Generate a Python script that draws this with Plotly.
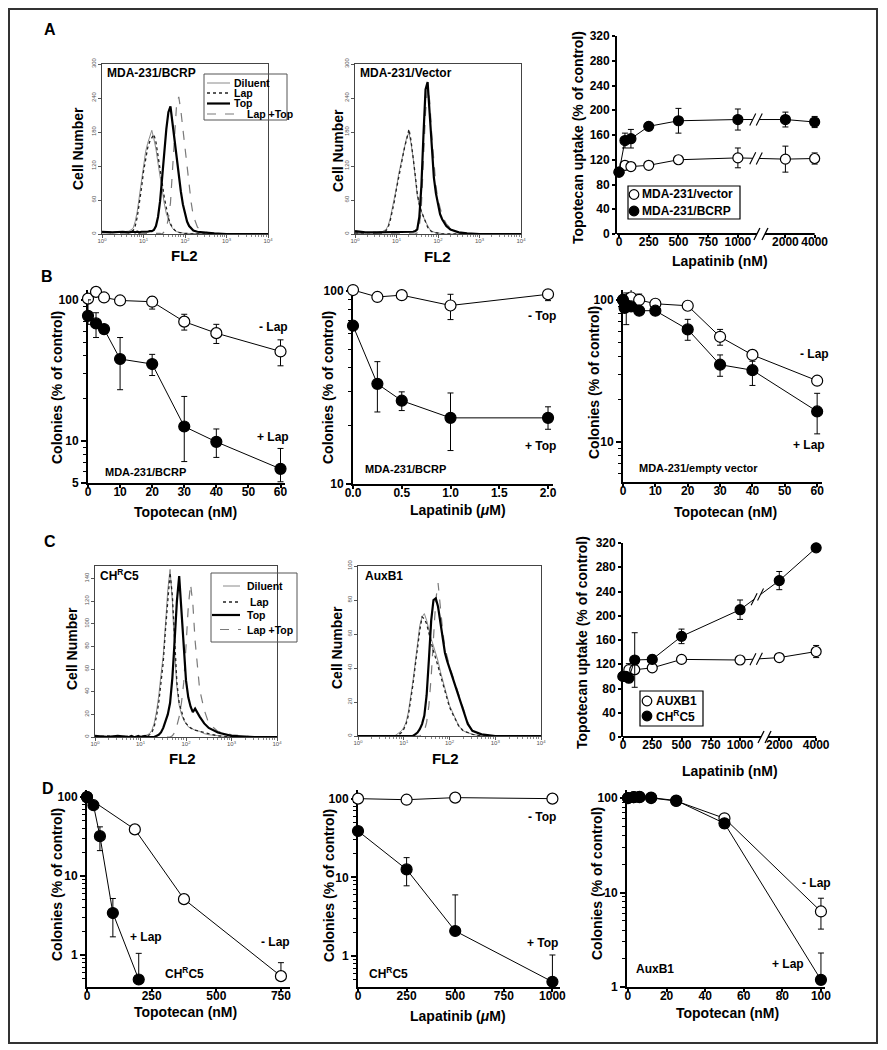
import plotly.graph_objects as go

W, H = 887, 1050
FONT = "Liberation Sans"
PAGE_OFFSET = 8  # browser body margin; layout coordinates below are screen pixels

# ================= DATA =================
# --- Flow cytometry histograms (FL2, decade exponents) ---
FL2_EXP = [0.0, 0.25, 0.5, 0.65, 0.75, 0.8, 0.85, 0.9, 0.95, 1.0, 1.05, 1.1, 1.15, 1.2, 1.25,
           1.3, 1.35, 1.4, 1.45, 1.5, 1.55, 1.6, 1.65, 1.7, 1.75, 1.8, 1.85, 1.9, 1.95, 2.0,
           2.05, 2.1, 2.15, 2.2, 2.3, 2.4, 2.5, 2.7, 3.0, 3.5, 4.0]
HIST_SERIES = ["Diluent", "Lap", "Top", "Lap +Top"]

A1_diluent = [4, 3, 4, 5, 10, 22, 40, 65, 95, 122, 145, 160, 172, 183, 168, 150, 125, 100, 76, 54, 36, 24, 16, 10, 6, 4, 3, 2, 2, 1, 1, 1, 0, 0, 0, 0, 0, 0, 0, 0, 0]
A1_lap = [3, 3, 3, 3, 6, 14, 30, 52, 80, 110, 135, 152, 163, 170, 176, 162, 140, 115, 90, 65, 44, 28, 18, 11, 7, 4, 3, 2, 1, 1, 1, 0, 0, 0, 0, 0, 0, 0, 0, 0, 0]
A1_top = [4, 3, 4, 3, 4, 3, 4, 3, 4, 4, 3, 4, 5, 5, 7, 14, 30, 58, 100, 145, 185, 215, 225, 195, 165, 128, 100, 75, 52, 35, 22, 14, 9, 6, 4, 3, 2, 1, 0, 0, 0]
A1_laptop = [2, 2, 2, 2, 2, 2, 2, 2, 2, 2, 2, 2, 2, 2, 1, 1, 1, 1, 0, 4, 10, 28, 55, 110, 180, 232, 242, 218, 185, 150, 118, 85, 55, 32, 12, 5, 3, 1, 0, 0, 0]

A2_diluent = [3, 2, 3, 4, 8, 15, 28, 45, 62, 82, 105, 122, 140, 158, 172, 178, 160, 135, 100, 68, 50, 38, 30, 22, 14, 8, 5, 3, 2, 2, 1, 0, 0, 0, 0, 0, 0, 0, 0, 0, 0]
A2_lap = [2, 2, 2, 3, 6, 12, 24, 40, 58, 80, 100, 120, 138, 155, 168, 185, 165, 138, 105, 72, 52, 40, 30, 20, 12, 7, 4, 3, 2, 1, 0, 0, 0, 0, 0, 0, 0, 0, 0, 0, 0]
A2_top = [5, 3, 3, 3, 4, 3, 4, 3, 4, 3, 4, 3, 4, 4, 3, 4, 4, 4, 5, 8, 30, 85, 175, 255, 268, 215, 150, 100, 72, 50, 35, 26, 19, 14, 8, 5, 3, 1, 0, 0, 0]
A2_laptop = [1, 1, 1, 1, 1, 1, 1, 1, 1, 1, 1, 1, 1, 1, 1, 1, 1, 1, 0, 2, 12, 50, 130, 215, 258, 235, 175, 120, 85, 60, 45, 33, 25, 18, 10, 6, 3, 1, 0, 0, 0]

C1_diluent = [1, 1, 0, 1, 0, 1, 0, 1, 0, 1, 1, 1, 2, 3, 6, 12, 22, 36, 55, 72, 100, 130, 148, 120, 75, 44, 28, 20, 15, 12, 9, 8, 7, 6, 5, 3, 2, 1, 0, 0, 0]
C1_lap = [0, 1, 0, 0, 1, 0, 1, 0, 0, 0, 1, 1, 1, 2, 4, 9, 18, 30, 48, 66, 95, 125, 145, 125, 82, 48, 30, 22, 16, 12, 10, 8, 7, 6, 5, 4, 3, 1, 0, 0, 0]
C1_top = [1, 0, 1, 0, 0, 1, 0, 0, 1, 0, 0, 1, 0, 0, 0, 0, 1, 2, 4, 8, 14, 20, 30, 52, 85, 120, 142, 112, 80, 50, 35, 27, 22, 25, 18, 12, 8, 4, 1, 0, 0]
C1_laptop = [0, 0, 0, 0, 0, 0, 0, 0, 0, 0, 0, 0, 0, 0, 0, 0, 0, 0, 0, 0, 0, 0, 0, 1, 4, 10, 18, 30, 48, 80, 115, 135, 118, 85, 42, 24, 12, 5, 2, 0, 0]

C2_diluent = [0, 0, 0, 0, 0, 0, 1, 2, 3, 5, 8, 14, 22, 32, 43, 55, 65, 70, 72, 68, 62, 57, 53, 49, 44, 38, 33, 27, 22, 18, 15, 12, 9, 6, 3, 2, 1, 0, 0, 0, 0]
C2_lap = [0, 0, 0, 0, 0, 0, 0, 1, 2, 4, 7, 12, 20, 30, 41, 52, 62, 70, 69, 66, 60, 55, 50, 46, 41, 36, 31, 26, 21, 17, 14, 11, 8, 6, 3, 2, 1, 0, 0, 0, 0]
C2_top = [0, 0, 0, 0, 0, 0, 0, 0, 0, 0, 0, 0, 0, 0, 1, 2, 4, 7, 12, 24, 45, 68, 80, 81, 76, 66, 56, 49, 44, 40, 36, 32, 28, 24, 15, 7, 3, 1, 0, 0, 0]
C2_laptop = [0, 0, 0, 0, 0, 0, 0, 0, 0, 0, 0, 0, 0, 0, 0, 0, 0, 1, 3, 8, 18, 35, 60, 80, 90, 75, 62, 52, 46, 41, 37, 33, 29, 25, 16, 8, 3, 1, 0, 0, 0]

FL2_TICKS = [1, 10, 100, 1000, 10000]
FL2_TICKTEXT = ["10<sup>0</sup>", "10<sup>1</sup>", "10<sup>2</sup>", "10<sup>3</sup>", "10<sup>4</sup>"]
A_HIST_YTICKS = [0, 60, 120, 180, 240, 300]
C1_YTICKS = [0, 20, 40, 60, 80, 100, 120, 140]
C2_YTICKS = [0, 20, 40, 60, 80, 100]

# --- Topotecan uptake vs lapatinib (A right) ---
A3_lap_nM = [0, 50, 100, 250, 500, 1000, 2000, 4000]
A3_vector = [100, 111, 109, 111, 120, 123, 121, 122]
A3_vector_err = [0, 3, 3, 3, 6, 16, 21, 9]
A3_bcrp = [100, 151, 154, 174, 183, 185, 185, 181]
A3_bcrp_err = [0, 12, 15, 5, 20, 17, 12, 9]

# --- Topotecan uptake vs lapatinib (C right) ---
C3_auxb1_nM = [0, 50, 100, 250, 500, 1000, 2000, 4000]
C3_auxb1 = [100, 111, 111, 114, 128, 127, 131, 141]
C3_auxb1_err = [0, 10, 0, 5, 6, 4, 5, 10]
C3_chrc5_nM = [0, 25, 50, 100, 250, 500, 1000, 2000, 4000]
C3_chrc5 = [100, 100, 97, 127, 128, 166, 210, 258, 312]
C3_chrc5_err = [0, 0, 0, 45, 7, 12, 16, 15, 0]
UPTAKE_YTICKS = [0, 40, 80, 120, 160, 200, 240, 280, 320]
LAP_NM_TICKS = [0, 250, 500, 750, 1000, 2000, 4000]

# --- B: colony survival ---
B1_topo = [0, 2.5, 5, 10, 20, 30, 40, 60]
B1_minus_lap = [102, 114, 104, 99, 97, 70, 58, 43]
B1_minus_lap_ep = [0, 0, 0, 0, 8, 9, 9, 9]
B1_minus_lap_em = [0, 0, 0, 0, 11, 9, 9, 9]
B1_plus_lap = [77, 68, 62, 38, 35, 12.6, 9.8, 6.3]
B1_plus_lap_ep = [23, 13, 0, 16, 6, 8, 2.3, 2.5]
B1_plus_lap_em = [10, 14, 0, 15, 6, 5.5, 2.2, 1.2]

B2_lap_uM = [0, 0.25, 0.5, 1.0, 2.0]
B2_minus_top = [101, 93, 95, 84, 96]
B2_minus_top_ep = [0, 0, 0, 12, 3]
B2_minus_top_em = [0, 0, 0, 13, 7]
B2_plus_top = [66, 33, 27, 22, 22]
B2_plus_top_ep = [0, 10, 3, 7.6, 3.1]
B2_plus_top_em = [0, 9.4, 3, 7.1, 2.8]

B3_minus_topo = [0, 2.5, 5, 10, 20, 30, 40, 60]
B3_minus_lap = [100, 104, 100, 94, 91, 55, 41, 27]
B3_minus_lap_ep = [0, 18, 10, 0, 0, 7, 0, 0]
B3_minus_lap_em = [0, 0, 0, 0, 0, 7, 0, 0]
B3_plus_topo = [0, 0.5, 1, 2.5, 5, 10, 20, 30, 40, 60]
B3_plus_lap = [100, 88, 92, 90, 84, 84, 62, 35, 32, 16.4]
B3_plus_lap_ep = [0, 0, 20, 0, 0, 0, 11, 6, 5, 5.6]
B3_plus_lap_em = [0, 0, 25, 0, 0, 0, 10, 6, 7, 5]

# --- D: colony survival ---
D1_minus_topo = [0, 185, 375, 750]
D1_minus_lap = [100, 39, 5.1, 0.54]
D1_minus_lap_ep = [0, 0, 0, 0.26]
D1_plus_topo = [0, 25, 50, 100, 200]
D1_plus_lap = [100, 79, 32, 3.4, 0.49]
D1_plus_lap_ep = [0, 0, 10, 1.8, 0.56]
D1_plus_lap_em = [0, 0, 11, 1.7, 0]

D2_lap = [0, 250, 500, 1000]
D2_minus_top = [100, 97, 103, 100]
D2_plus_top = [38.8, 12.6, 2.08, 0.47]
D2_plus_top_ep = [0, 5.2, 3.9, 0.56]
D2_plus_top_em = [0, 4.8, 0, 0]

D3_topo = [0, 3, 6, 12, 25, 50, 100]
D3_minus_lap = [100, 102, 102, 100, 93, 61, 6.3]
D3_minus_lap_ep = [0, 0, 0, 0, 0, 0, 2.4]
D3_minus_lap_em = [0, 0, 0, 0, 0, 0, 2.2]
D3_plus_lap = [100, 102, 103, 101, 94, 54, 1.19]
D3_plus_lap_ep = [0, 0, 0, 0, 0, 0, 1.1]
D3_plus_lap_em = [0, 0, 0, 0, 0, 6, 0]

# ================= helpers =================
def px(x):
    return (x - PAGE_OFFSET) / W


def py(y):
    return 1 - (y - PAGE_OFFSET) / H


fig = go.Figure()
layout = dict(width=W, height=H, autosize=False,
              margin=dict(l=0, r=0, t=0, b=0, pad=0, autoexpand=False),
              paper_bgcolor="white", plot_bgcolor="white", showlegend=False,
              font=dict(family=FONT, color="black"))
annotations = []
shapes = []


def make_axes(i, box, xcfg, ycfg):
    x0, x1, y0, y1 = box
    s = "" if i == 1 else str(i)
    layout["xaxis" + s] = dict(domain=[px(x0), px(x1)], anchor="y" + s, automargin=False, **xcfg)
    layout["yaxis" + s] = dict(domain=[py(y1), py(y0)], anchor="x" + s, automargin=False, **ycfg)
    return "x" + s, "y" + s


def text(x, y, s, size=12, anchor="center", angle=0, bold=True, color="black"):
    annotations.append(dict(x=px(x), y=py(y), xref="paper", yref="paper", text=s,
                            showarrow=False, xanchor=anchor, yanchor="middle",
                            textangle=angle,
                            font=dict(family=FONT, size=size, color=color,
                                      weight="bold" if bold else "normal")))


def pline(x0, y0, x1, y1, color="black", width=1, dash="solid"):
    shapes.append(dict(type="line", xref="paper", yref="paper", x0=px(x0), y0=py(y0),
                       x1=px(x1), y1=py(y1), line=dict(color=color, width=width, dash=dash)))


def prect(x0, y0, x1, y1, width=1, color="black"):
    shapes.append(dict(type="rect", xref="paper", yref="paper", x0=px(x0), y0=py(y1),
                       x1=px(x1), y1=py(y0), line=dict(color=color, width=width)))


def pcircle(cx, cy, r, filled):
    shapes.append(dict(type="circle", xref="paper", yref="paper", x0=px(cx - r), x1=px(cx + r),
                       y0=py(cy + r), y1=py(cy - r), line=dict(color="black", width=1.2),
                       fillcolor="black" if filled else "white"))


TICKFONT = dict(family=FONT, size=12, color="black", weight="bold")
HIST_STYLE = {
    "Diluent": dict(color="#8a8a8a", width=1, dash="solid"),
    "Lap": dict(color="#222222", width=1.3, dash="dot"),
    "Top": dict(color="black", width=2.2, dash="solid"),
    "Lap +Top": dict(color="#7a7a7a", width=1.2, dash="dash"),
}
FL2_MINOR = [m * 10 ** d for d in range(4) for m in range(2, 10)]


def hist_panel(i, box, ymax, yticks, curves):
    xcfg = dict(type="log", range=[0, 4], tickmode="array", tickvals=FL2_TICKS,
                ticktext=FL2_TICKTEXT, tickfont=dict(family=FONT, size=6, color="#555"),
                ticks="outside", ticklen=3, tickwidth=0.8, tickcolor="#555", tickangle=0,
                ticklabelstandoff=-2,
                minor=dict(tickmode="array", tickvals=FL2_MINOR, ticks="outside", ticklen=1.5,
                           tickcolor="#888", tickwidth=0.6, showgrid=False),
                showline=True, mirror=True, linecolor="#444", linewidth=1,
                showgrid=False, zeroline=False)
    ycfg = dict(range=[0, ymax], tickmode="array", tickvals=yticks,
                tickfont=dict(family=FONT, size=6, color="#555"), tickangle=-90,
                ticks="outside", ticklen=3, tickwidth=0.8, tickcolor="#555",
                showline=True, mirror=True, linecolor="#444", linewidth=1,
                showgrid=False, zeroline=False)
    xr, yr = make_axes(i, box, xcfg, ycfg)
    fl2 = [10 ** e for e in FL2_EXP]
    for name in ["Lap +Top", "Diluent", "Lap", "Top"]:
        fig.add_trace(go.Scatter(x=fl2, y=curves[name], xaxis=xr, yaxis=yr, mode="lines",
                                 line=HIST_STYLE[name], hoverinfo="skip"))
    return xr, yr


def lin_axis(rng, tickvals, ticktext=None, showline=True, lw=2, is_x=True):
    d = dict(range=rng, tickmode="array", tickvals=tickvals, showline=showline, linewidth=lw,
             linecolor="black", ticks="outside", ticklen=3, tickwidth=1.5, tickcolor="black",
             showgrid=False, zeroline=False, tickfont=TICKFONT, layer="below traces",
             tickangle=0)
    if is_x:
        d["ticklabelstandoff"] = -6
    if ticktext is not None:
        d["ticktext"] = ticktext
    return d


def log_axis(rng, tickvals, minor_vals):
    return dict(type="log", range=rng, tickmode="array", tickvals=tickvals,
                ticktext=[str(v) for v in tickvals], showline=True, linewidth=2,
                linecolor="black", ticks="outside", ticklen=5, tickwidth=1.5, tickcolor="black",
                minor=dict(tickmode="array", tickvals=minor_vals, ticks="outside", ticklen=3,
                           tickwidth=1, tickcolor="black", showgrid=False),
                showgrid=False, zeroline=False, tickfont=TICKFONT, layer="below traces")


def series(xr, yr, x, y, filled, ep=None, em=None, size=11):
    err = None
    if ep is not None:
        err = dict(type="data", symmetric=False, array=ep,
                   arrayminus=em if em is not None else ep,
                   color="black", thickness=1, width=3)
    fig.add_trace(go.Scatter(x=x, y=y, xaxis=xr, yaxis=yr, mode="lines+markers",
                             line=dict(color="black", width=1),
                             marker=dict(size=size, color="black" if filled else "white",
                                         line=dict(color="black", width=1.2)),
                             error_y=err, cliponaxis=False, hoverinfo="skip"))


def axis_break(xr, a, b, bottom_px):
    for xv in (a, b):
        shapes.append(dict(type="line", xref=xr, yref="paper", xsizemode="pixel",
                           ysizemode="pixel", xanchor=xv, yanchor=py(bottom_px),
                           x0=-3, x1=3, y0=-6, y1=6, line=dict(color="black", width=1.3)))


def line_break(xr, yr, xs, ys, a, b):
    def yat(xv):
        for k in range(len(xs) - 1):
            if xs[k] <= xv <= xs[k + 1]:
                t = (xv - xs[k]) / (xs[k + 1] - xs[k])
                return ys[k] + t * (ys[k + 1] - ys[k])
        return ys[-1]
    shapes.append(dict(type="line", xref=xr, yref=yr, x0=a, x1=b, y0=yat(a), y1=yat(b),
                       line=dict(color="white", width=5), layer="above"))
    for xv in (a, b):
        shapes.append(dict(type="line", xref=xr, yref=yr, xsizemode="pixel",
                           ysizemode="pixel", xanchor=xv, yanchor=yat(xv),
                           x0=-3, x1=3, y0=-6, y1=6, line=dict(color="black", width=1.1),
                           layer="above"))


# ================= PANEL A =================
hist_panel(1, (102, 268, 64, 234), 300, A_HIST_YTICKS,
           dict(zip(HIST_SERIES, [A1_diluent, A1_lap, A1_top, A1_laptop])))
hist_panel(2, (355, 521, 64, 234), 300, A_HIST_YTICKS,
           dict(zip(HIST_SERIES, [A2_diluent, A2_lap, A2_top, A2_laptop])))

A3_POS = {2000: 1400, 4000: 1646}
a3x = lambda v: A3_POS.get(v, v)
xr, yr = make_axes(3, (617, 825, 36, 234),
                   lin_axis([-17, 1733], [a3x(v) for v in LAP_NM_TICKS],
                            [str(v) for v in LAP_NM_TICKS], showline=False),
                   lin_axis([0, 320], UPTAKE_YTICKS, lw=1.8, is_x=False))
vx = [a3x(v) for v in A3_lap_nM]
series(xr, yr, vx, A3_vector, False, A3_vector_err, size=10)
series(xr, yr, vx, A3_bcrp, True, A3_bcrp_err, size=10)
shapes.append(dict(type="line", xref=xr, yref="paper", x0=-17, x1=1160, y0=py(234), y1=py(234),
                   line=dict(color="black", width=1.8)))
shapes.append(dict(type="line", xref=xr, yref="paper", x0=1228, x1=1646, y0=py(234), y1=py(234),
                   line=dict(color="black", width=1.8)))
axis_break(xr, 1160, 1228, 234)
line_break(xr, yr, vx, A3_vector, 1125, 1180)
line_break(xr, yr, vx, A3_bcrp, 1125, 1180)

# ================= PANEL B =================
B_MINOR_5 = [6, 7, 8, 9, 20, 30, 40, 50, 60, 70, 80, 90]
B_MINOR_10 = [20, 30, 40, 50, 60, 70, 80, 90]
xr, yr = make_axes(4, (88, 285, 290, 483),
                   lin_axis([0, 61.4], [0, 10, 20, 30, 40, 50, 60]),
                   log_axis([0.699, 2.07], [5, 10, 100], B_MINOR_5))
series(xr, yr, B1_topo, B1_minus_lap, False, B1_minus_lap_ep, B1_minus_lap_em)
series(xr, yr, B1_topo, B1_plus_lap, True, B1_plus_lap_ep, B1_plus_lap_em)

xr, yr = make_axes(5, (353, 553, 287, 484),
                   lin_axis([0, 2.051], [0, 0.5, 1.0, 1.5, 2.0], ["0.0", "0.5", "1.0", "1.5", "2.0"]),
                   log_axis([1, 2.02], [10, 100], B_MINOR_10))
series(xr, yr, B2_lap_uM, B2_minus_top, False, B2_minus_top_ep, B2_minus_top_em)
series(xr, yr, B2_lap_uM, B2_plus_top, True, B2_plus_top_ep, B2_plus_top_em)

xr, yr = make_axes(6, (623, 822, 290, 482),
                   lin_axis([0, 61.5], [0, 10, 20, 30, 40, 50, 60]),
                   log_axis([0.718, 2.07], [10, 100], B_MINOR_5))
series(xr, yr, B3_minus_topo, B3_minus_lap, False, B3_minus_lap_ep, B3_minus_lap_em)
series(xr, yr, B3_plus_topo, B3_plus_lap, True, B3_plus_lap_ep, B3_plus_lap_em)

# ================= PANEL C =================
hist_panel(7, (95, 277, 566, 737), 151, C1_YTICKS,
           dict(zip(HIST_SERIES, [C1_diluent, C1_lap, C1_top, C1_laptop])))
hist_panel(8, (358, 541, 566, 736), 100, C2_YTICKS,
           dict(zip(HIST_SERIES, [C2_diluent, C2_lap, C2_top, C2_laptop])))

C3_POS = {2000: 1335, 4000: 1650}
c3x = lambda v: C3_POS.get(v, v)
xr, yr = make_axes(9, (623, 822, 543, 737),
                   lin_axis([0, 1700], [c3x(v) for v in LAP_NM_TICKS],
                            [str(v) for v in LAP_NM_TICKS], showline=False),
                   lin_axis([0, 320], UPTAKE_YTICKS, lw=1.8, is_x=False))
ax_ = [c3x(v) for v in C3_auxb1_nM]
cx_ = [c3x(v) for v in C3_chrc5_nM]
series(xr, yr, ax_, C3_auxb1, False, C3_auxb1_err, size=10)
series(xr, yr, cx_, C3_chrc5, True, C3_chrc5_err, size=10)
shapes.append(dict(type="line", xref=xr, yref="paper", x0=0, x1=1179, y0=py(737), y1=py(737),
                   line=dict(color="black", width=1.8)))
shapes.append(dict(type="line", xref=xr, yref="paper", x0=1239, x1=1650, y0=py(737), y1=py(737),
                   line=dict(color="black", width=1.8)))
axis_break(xr, 1179, 1239, 737)
line_break(xr, yr, ax_, C3_auxb1, 1110, 1165)
line_break(xr, yr, cx_, C3_chrc5, 1120, 1175)

# ================= PANEL D =================
D_MINOR = [0.5, 0.6, 0.7, 0.8, 0.9, 2, 3, 4, 5, 6, 7, 8, 9, 20, 30, 40, 50, 60, 70, 80, 90]
xr, yr = make_axes(10, (87, 290, 790, 987),
                   lin_axis([0, 785], [0, 250, 500, 750]),
                   log_axis([-0.405, 2.09], [1, 10, 100], D_MINOR))
series(xr, yr, D1_minus_topo, D1_minus_lap, False, D1_minus_lap_ep, [0, 0, 0, 0])
series(xr, yr, D1_plus_topo, D1_plus_lap, True, D1_plus_lap_ep, D1_plus_lap_em)

xr, yr = make_axes(11, (358, 560, 790, 987),
                   lin_axis([0, 1039], [0, 250, 500, 750, 1000]),
                   log_axis([-0.394, 2.11], [1, 10, 100], D_MINOR))
series(xr, yr, D2_lap, D2_minus_top, False)
series(xr, yr, D2_lap, D2_plus_top, True, D2_plus_top_ep, D2_plus_top_em)

xr, yr = make_axes(12, (627, 825, 790, 987),
                   lin_axis([-0.5, 102.1], [0, 20, 40, 60, 80, 100]),
                   log_axis([0, 2.085], [1, 10, 100], D_MINOR[5:]))
series(xr, yr, D3_topo, D3_minus_lap, False, D3_minus_lap_ep, D3_minus_lap_em)
series(xr, yr, D3_topo, D3_plus_lap, True, D3_plus_lap_ep, D3_plus_lap_em)

# ================= TEXT, LEGENDS, FRAME =================
for letter, (lx, ly) in zip("ABCD", [(50, 30), (47, 276), (50, 541), (48, 788)]):
    text(lx, ly, letter, size=16)

YT = "Colonies (% of control)"
UT = "Topotecan uptake (% of control)"
# A
text(105, 73, "MDA-231/BCRP", size=12, anchor="left")
text(358, 73, "MDA-231/Vector", size=12, anchor="left")
text(78, 149, "Cell Number", size=14, angle=-90)
text(338, 151, "Cell Number", size=14, angle=-90)
text(184, 255, "FL2", size=15)
text(437, 257, "FL2", size=15)
text(578, 138, UT, size=14, angle=-90)
text(720, 261, "Lapatinib (nM)", size=14)
# B
text(57, 388, YT, size=14, angle=-90)
text(185, 512, "Topotecan (nM)", size=14)
text(273, 327, "- Lap", size=12)
text(273, 437, "+ Lap", size=12)
text(145, 472, "MDA-231/BCRP", size=11)
text(328, 388, YT, size=14, angle=-90)
text(458, 510, "Lapatinib (<i>μ</i>M)", size=14)
text(542, 316, "- Top", size=12)
text(540, 446, "+ Top", size=12)
text(405, 469, "MDA-231/BCRP", size=11)
text(594, 383, YT, size=14, angle=-90)
text(725, 512, "Topotecan (nM)", size=14)
text(814, 354, "- Lap", size=12)
text(809, 445, "+ Lap", size=12)
text(698, 468, "MDA-231/empty vector", size=11)
# C
text(98, 575, "CH<sup>R</sup>C5", size=12, anchor="left")
text(363, 576, "AuxB1", size=12, anchor="left")
text(72, 649, "Cell Number", size=14, angle=-90)
text(337, 648, "Cell Number", size=14, angle=-90)
text(182, 758, "FL2", size=15)
text(445, 758, "FL2", size=15)
text(582, 643, UT, size=14, angle=-90)
text(730, 771, "Lapatinib (nM)", size=14)
# D
text(57, 885, YT, size=14, angle=-90)
text(185, 1012, "Topotecan (nM)", size=14)
text(146, 937, "+ Lap", size=12)
text(275, 942, "- Lap", size=12)
text(184, 973, "CH<sup>R</sup>C5", size=12)
text(329, 886, YT, size=14, angle=-90)
text(458, 1016, "Lapatinib (<i>μ</i>M)", size=14)
text(542, 817, "- Top", size=12)
text(542, 943, "+ Top", size=12)
text(388, 973, "CH<sup>R</sup>C5", size=12)
text(597, 884, YT, size=14, angle=-90)
text(727, 1013, "Topotecan (nM)", size=14)
text(816, 883, "- Lap", size=12)
text(788, 964, "+ Lap", size=12)
text(655, 969, "AuxB1", size=12)


def hist_legend(box, rows, samples, text_x):
    prect(*box, width=1, color="#555")
    for name, ry, (sx0, sx1), tx in zip(HIST_SERIES, rows, samples, text_x):
        st = HIST_STYLE[name]
        pline(sx0, ry, sx1, ry, color=st["color"], width=st["width"], dash=st["dash"])
        text(tx, ry, name, size=10.5, anchor="left")


hist_legend((204, 74, 287, 120), [83, 93, 103.5, 114],
            [(207, 230), (207, 230), (207, 230), (207, 240)], [232, 232, 232, 245])
hist_legend((211, 573, 297, 642), [586, 602, 615, 629.5],
            [(223, 240), (223, 241), (212, 240), (220, 241)], [245, 248, 245, 245])

prect(628, 186, 740, 219, width=1.2)
pcircle(634, 194.5, 4.8, False)
pcircle(634, 211, 4.8, True)
text(640, 194.5, "MDA-231/vector", size=12, anchor="left")
text(640, 211, "MDA-231/BCRP", size=12, anchor="left")

prect(640, 691, 703, 726, width=1.2)
pcircle(647, 701, 4.8, False)
pcircle(647, 716, 4.8, True)
text(654, 701, "AUXB1", size=12, anchor="left")
text(654, 716, "CH<sup>R</sup>C5", size=12, anchor="left")

prect(9, 9, 877, 1043, width=2, color="#333")

layout["annotations"] = annotations
layout["shapes"] = shapes
fig.update_layout(**layout)
fig.write_html("out.html")
